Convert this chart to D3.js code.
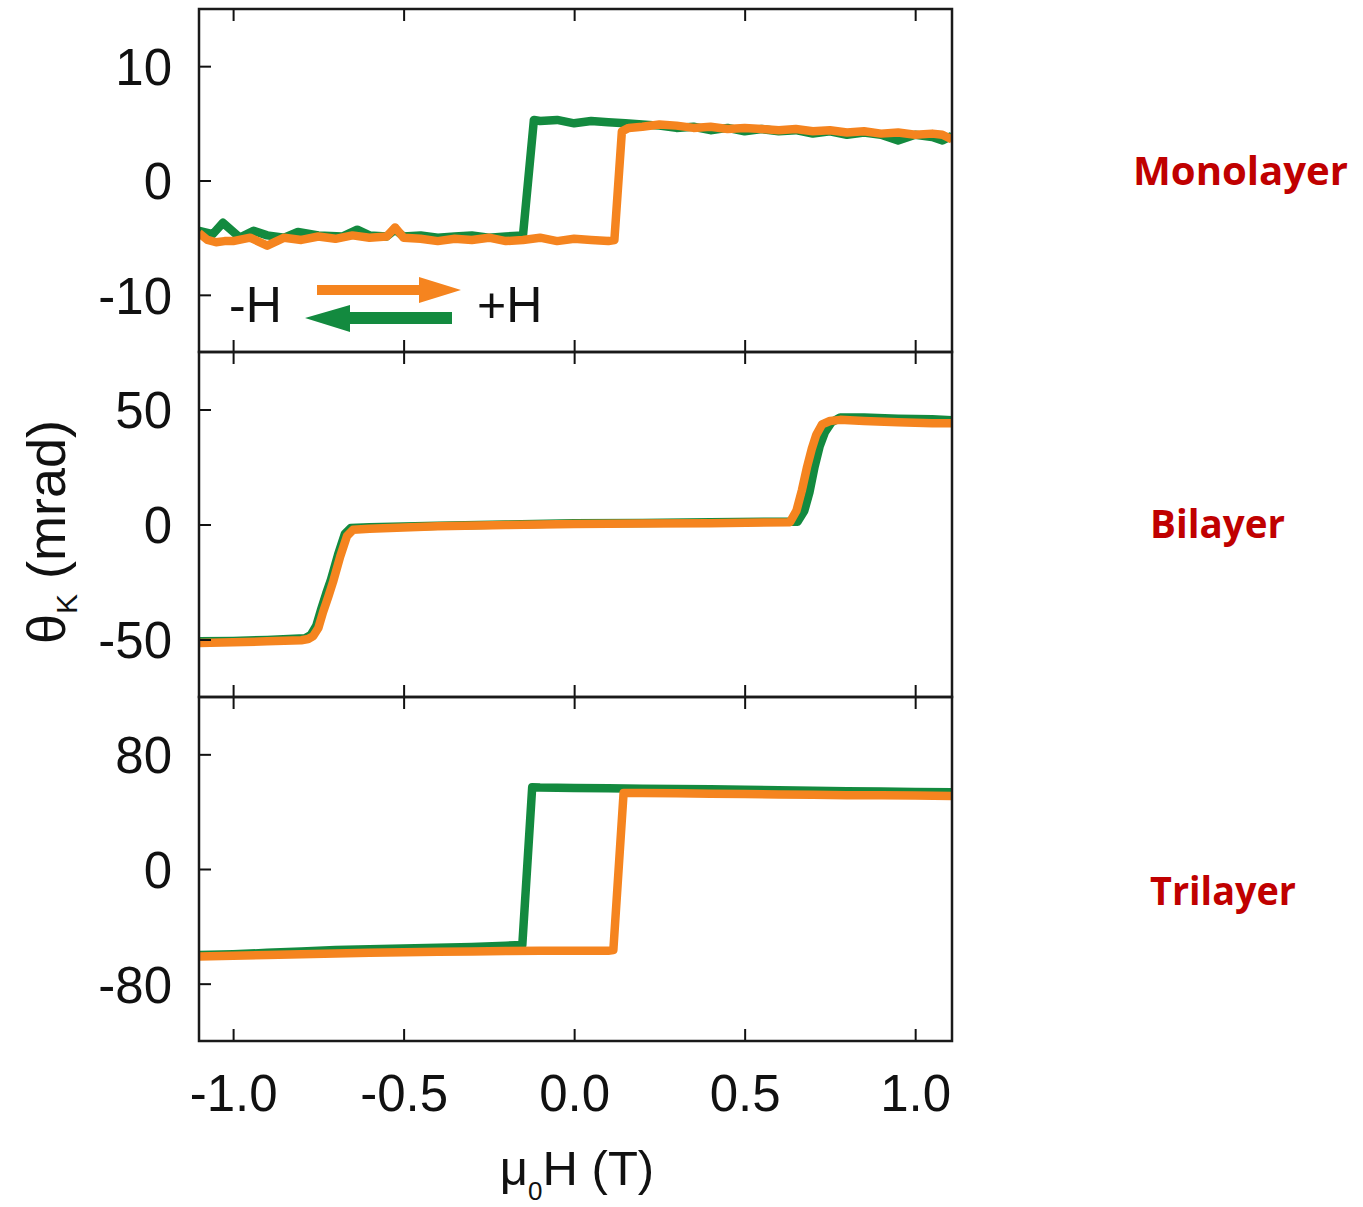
<!DOCTYPE html>
<html>
<head>
<meta charset="utf-8">
<script src="https://cdn.jsdelivr.net/npm/d3@7"></script>
<style>
  body { margin: 0; background: #fff; }
  svg text { font-family: "Liberation Sans", Arial, sans-serif; fill: #111; }
</style>
</head>
<body>
<svg id="chart" width="1363" height="1207"></svg>
<script>
// Field ticks (T) and theta ticks per panel (mrad)
var fieldTicks = [-1.0, -0.5, 0.0, 0.5, 1.0];
var monoTicks = [-10, 0, 10];
var biTicks = [-50, 0, 50];
var triTicks = [-80, 0, 80];
var panelNames = ["Monolayer", "Bilayer", "Trilayer"];

// Monolayer: sweep up (orange) and sweep down (green)
var monoUpH = [-1.1, -1.075, -1.05, -1.025, -1.0, -0.95, -0.9, -0.85, -0.8, -0.75, -0.7, -0.65, -0.6, -0.55, -0.525, -0.5, -0.45, -0.4, -0.35, -0.3, -0.25, -0.2, -0.15, -0.1, -0.05, 0.0, 0.05, 0.1, 0.118, 0.14, 0.16, 0.2, 0.25, 0.3, 0.35, 0.4, 0.45, 0.5, 0.55, 0.6, 0.65, 0.7, 0.75, 0.8, 0.85, 0.9, 0.95, 1.0, 1.05, 1.08, 1.108];
var monoUpTheta = [-4.6, -5.2, -5.4, -5.3, -5.3, -5.0, -5.7, -5.0, -5.2, -4.9, -5.1, -4.8, -5.0, -4.9, -4.1, -5.0, -5.1, -5.3, -5.1, -5.2, -5.0, -5.3, -5.2, -5.0, -5.3, -5.1, -5.2, -5.3, -5.2, 4.3, 4.6, 4.7, 4.9, 4.8, 4.6, 4.7, 4.5, 4.6, 4.5, 4.4, 4.5, 4.3, 4.4, 4.2, 4.3, 4.1, 4.2, 4.0, 4.1, 4.0, 3.6];
var monoDownH = [1.108, 1.08, 1.05, 1.0, 0.95, 0.9, 0.85, 0.8, 0.75, 0.7, 0.65, 0.6, 0.55, 0.5, 0.45, 0.4, 0.35, 0.3, 0.25, 0.2, 0.15, 0.1, 0.05, 0.0, -0.05, -0.1, -0.118, -0.15, -0.2, -0.25, -0.3, -0.35, -0.4, -0.45, -0.5, -0.525, -0.55, -0.6, -0.636, -0.68, -0.75, -0.81, -0.85, -0.9, -0.94, -0.98, -1.03, -1.06, -1.1];
var monoDownTheta = [3.9, 3.5, 3.8, 4.0, 3.5, 4.0, 4.2, 4.0, 4.3, 4.1, 4.4, 4.3, 4.5, 4.3, 4.6, 4.4, 4.7, 4.6, 4.8, 4.9, 5.0, 5.1, 5.2, 5.0, 5.3, 5.2, 5.3, -4.8, -4.9, -5.0, -4.8, -4.9, -5.0, -4.8, -4.9, -4.3, -4.9, -4.8, -4.3, -4.9, -4.8, -4.5, -5.0, -4.8, -4.4, -5.0, -3.7, -4.7, -4.4];

// Bilayer
var biUpH = [-1.1, -1.0, -0.9, -0.8, -0.78, -0.765, -0.75, -0.736, -0.72, -0.707, -0.686, -0.666, -0.648, -0.6, -0.4, -0.2, 0.0, 0.2, 0.4, 0.633, 0.652, 0.668, 0.683, 0.697, 0.71, 0.727, 0.75, 0.78, 0.85, 0.95, 1.05, 1.108];
var biUpTheta = [-51.5, -51.2, -50.8, -50.3, -49.8, -48.5, -45, -38, -31, -25, -14, -5, -2.3, -1.8, -0.8, -0.2, 0.2, 0.4, 0.5, 1.0, 6, 15, 25, 33, 39, 43.5, 45, 45.5, 45, 44.5, 44, 44];
var biDownH = [1.108, 1.05, 0.95, 0.85, 0.78, 0.755, 0.735, 0.72, 0.705, 0.69, 0.675, 0.655, 0.6, 0.4, 0.2, 0.0, -0.2, -0.4, -0.6, -0.655, -0.672, -0.692, -0.713, -0.727, -0.742, -0.756, -0.772, -0.79, -0.9, -1.0, -1.1];
var biDownTheta = [45.3, 45.8, 46, 46.5, 46.5, 44.5, 40, 34, 25, 14, 6, 1.2, 1.2, 1.0, 0.6, 0.5, 0.0, -0.5, -1.2, -1.5, -4, -13, -24, -30, -37, -44, -48, -49.5, -50.2, -50.6, -50.8];

// Trilayer
var triUpH = [-1.1, -1.0, -0.9, -0.8, -0.7, -0.6, -0.5, -0.4, -0.3, -0.2, -0.1, 0.0, 0.1, 0.115, 0.145, 0.2, 0.3, 0.4, 0.5, 0.6, 0.7, 0.8, 0.9, 1.0, 1.108];
var triUpTheta = [-61, -60.5, -60, -59.5, -59, -58.5, -58, -57.8, -57.5, -57.2, -57, -57, -57, -56.5, 53, 53, 52.8, 52.5, 52.3, 52, 51.8, 51.5, 51.5, 51.2, 51];
var triDownH = [1.108, 1.0, 0.9, 0.8, 0.7, 0.6, 0.5, 0.4, 0.3, 0.2, 0.1, 0.0, -0.1, -0.123, -0.152, -0.2, -0.3, -0.4, -0.5, -0.6, -0.7, -0.8, -0.9, -1.0, -1.1];
var triDownTheta = [53.5, 53.8, 54, 54.3, 54.6, 55, 55.3, 55.6, 55.8, 56, 56.3, 56.5, 56.8, 57, -53, -53.5, -54.5, -55, -55.5, -56, -56.5, -57.5, -58.5, -59.5, -60];

var green = "#138a3f", orange = "#f5841f";

var svg = d3.select("#chart");
var left = 199, right = 952;
var x = d3.scaleLinear().domain([-1.1, 1.108]).range([left, right]);

var panels = [
  {name: panelNames[0], top: 9, bottom: 352, dom: [-15, 15], ticks: monoTicks,
   up: d3.zip(monoUpH, monoUpTheta), down: d3.zip(monoDownH, monoDownTheta), lx: 1133, ly: 185, lw: 215},
  {name: panelNames[1], top: 352, bottom: 697, dom: [-75, 75], ticks: biTicks,
   up: d3.zip(biUpH, biUpTheta), down: d3.zip(biDownH, biDownTheta), lx: 1150, ly: 538, lw: 135},
  {name: panelNames[2], top: 697, bottom: 1041, dom: [-120, 120], ticks: triTicks,
   up: d3.zip(triUpH, triUpTheta), down: d3.zip(triDownH, triDownTheta), lx: 1150, ly: 905, lw: 146}
];

panels.forEach(function(p, i) {
  var y = d3.scaleLinear().domain(p.dom).range([p.bottom, p.top]);
  var g = svg.append("g");

  g.append("clipPath").attr("id", "clip" + i)
    .append("rect")
    .attr("x", left).attr("y", p.top)
    .attr("width", right - left).attr("height", p.bottom - p.top);

  var line = d3.line()
      .x(function(d) { return x(d[0]); })
      .y(function(d) { return y(d[1]); });

  var curves = g.append("g").attr("clip-path", "url(#clip" + i + ")");
  curves.append("path")
      .datum(p.down)
      .attr("fill", "none")
      .attr("stroke", green)
      .attr("stroke-width", 8.5)
      .attr("stroke-linejoin", "round")
      .attr("d", line);
  curves.append("path")
      .datum(p.up)
      .attr("fill", "none")
      .attr("stroke", orange)
      .attr("stroke-width", 8.5)
      .attr("stroke-linejoin", "round")
      .attr("d", line);

  // y axis (ticks pointing inward)
  var ya = g.append("g")
      .attr("transform", "translate(" + left + ",0)")
      .call(d3.axisLeft(y).tickValues(p.ticks).tickSize(-12).tickPadding(27)
            .tickFormat(function(d) { return String(d); }));
  ya.select(".domain").remove();
  ya.selectAll("text").attr("font-size", 51).attr("dy", "0.36em");

  // top and bottom field ticks
  var ta = g.append("g")
      .attr("transform", "translate(0," + p.top + ")")
      .call(d3.axisTop(x).tickValues(fieldTicks).tickSize(-12).tickFormat(""));
  ta.select(".domain").remove();

  var last = i === panels.length - 1;
  var ba = g.append("g")
      .attr("transform", "translate(0," + p.bottom + ")")
      .call(d3.axisBottom(x).tickValues(fieldTicks).tickSize(-12).tickPadding(34)
            .tickFormat(function(d) { return last ? d.toFixed(1) : ""; }));
  ba.select(".domain").remove();
  ba.selectAll("text").attr("font-size", 51);

  g.selectAll(".tick line").attr("stroke", "#111").attr("stroke-width", 2);

  // frame
  g.append("rect")
      .attr("x", left).attr("y", p.top)
      .attr("width", right - left).attr("height", p.bottom - p.top)
      .attr("fill", "none").attr("stroke", "#1a1a1a").attr("stroke-width", 2.5);

  // panel label
  svg.append("text")
      .attr("x", p.lx).attr("y", p.ly)
      .attr("textLength", p.lw).attr("lengthAdjust", "spacingAndGlyphs")
      .style("font-family", "'Open Sans', sans-serif")
      .style("font-weight", 700)
      .style("font-size", "40px")
      .style("fill", "#c00000")
      .text(p.name);
});

// legend in monolayer panel
var leg = svg.append("g");
leg.append("text").attr("x", 229).attr("y", 322).attr("font-size", 50).text("-H");
leg.append("text").attr("x", 477).attr("y", 322).attr("font-size", 50).text("+H");
leg.append("path")
    .attr("d", "M317,285 H419 V277 L461,290 L419,303 V295 H317 Z")
    .attr("fill", orange);
leg.append("path")
    .attr("d", "M452,312 H350 V305 L305,318 L350,332 V324 H452 Z")
    .attr("fill", green);

// axis titles
var xt = svg.append("text")
    .attr("x", 577).attr("y", 1185)
    .attr("text-anchor", "middle")
    .attr("font-size", 49);
xt.append("tspan").text("\u03bc");
xt.append("tspan").attr("font-size", 26).attr("dy", 15).text("0");
xt.append("tspan").attr("dy", -15).text("H (T)");

var yt = svg.append("text")
    .attr("transform", "translate(65,532) rotate(-90)")
    .attr("text-anchor", "middle")
    .attr("font-size", 54);
yt.append("tspan").text("\u03b8");
yt.append("tspan").attr("font-size", 30).attr("dy", 12).text("K");
yt.append("tspan").attr("dy", -12).text(" (mrad)");
</script>
</body>
</html>
